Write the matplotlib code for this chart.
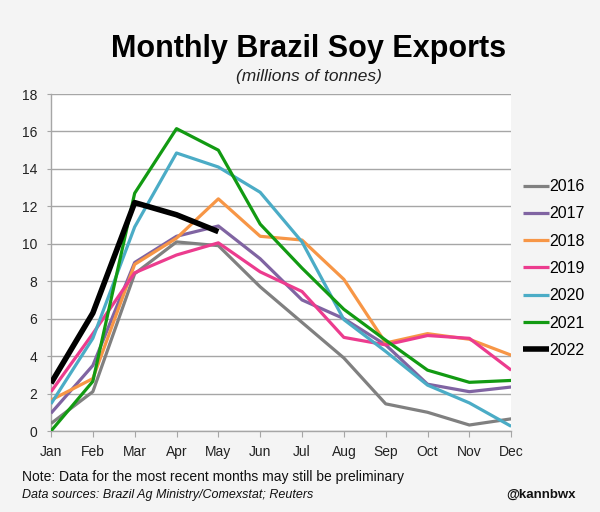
import matplotlib
matplotlib.use("Agg")
import matplotlib.pyplot as plt

months = ["Jan", "Feb", "Mar", "Apr", "May", "Jun", "Jul", "Aug", "Sep", "Oct", "Nov", "Dec"]
years = ["2016", "2017", "2018", "2019", "2020", "2021", "2022"]

s2016 = [0.4, 2.1, 8.4, 10.1, 9.9, 7.7, 5.8, 3.9, 1.45, 1.0, 0.32, 0.65]
s2017 = [0.95, 3.5, 9.0, 10.4, 10.95, 9.2, 7.0, 6.0, 4.6, 2.5, 2.1, 2.35]
s2018 = [1.65, 2.8, 8.9, 10.3, 12.4, 10.4, 10.2, 8.1, 4.7, 5.2, 4.9, 4.05]
s2019 = [2.1, 5.2, 8.45, 9.4, 10.05, 8.5, 7.45, 5.0, 4.6, 5.1, 4.95, 3.25]
s2020 = [1.45, 4.95, 10.9, 14.85, 14.1, 12.75, 10.1, 5.95, 4.25, 2.45, 1.5, 0.25]
s2021 = [0.0, 2.65, 12.7, 16.15, 15.0, 11.05, 8.7, 6.5, 4.85, 3.25, 2.6, 2.7]
s2022 = [2.55, 6.3, 12.2, 11.55, 10.65]

series = [s2016, s2017, s2018, s2019, s2020, s2021, s2022]
colors = ["#808080", "#8064A2", "#F79646", "#EC3C8E", "#4BACC6", "#129A12", "#000000"]
widths = [2.3, 2.3, 2.3, 2.3, 2.3, 2.3, 4.0]

plt.rcParams["font.family"] = ["Liberation Sans", "DejaVu Sans"]
bg = "#f4f4f4"
fig = plt.figure(figsize=(6.0, 5.12), dpi=100, facecolor=bg)
ax = fig.add_axes([0.085, 0.1582, 0.767, 0.6582])
ax.set_facecolor("white")

x = list(range(len(months)))
for yr, vals, c, lw in zip(years, series, colors, widths):
    ax.plot(x[:len(vals)], vals, color=c, lw=lw, label=yr, solid_capstyle="butt", zorder=3)

ax.set_xlim(0, 11)
ax.set_ylim(0, 18)
ax.set_yticks(range(0, 19, 2))
ax.set_xticks(x)
ax.set_xticklabels(months)
ax.grid(axis="y", color="#a6a6a6", lw=1.0, zorder=0)
ax.set_axisbelow(True)
for s in ["top", "right"]:
    ax.spines[s].set_visible(False)
for s in ["left", "bottom"]:
    ax.spines[s].set_color("#a6a6a6")
    ax.spines[s].set_linewidth(1.0)
ax.tick_params(axis="y", length=3, color="#a6a6a6", labelsize=10, pad=7, labelcolor="#222222")
ax.tick_params(axis="x", length=4, color="#a6a6a6", labelsize=10, pad=6, labelcolor="#222222")

leg = fig.legend(loc="center left", bbox_to_anchor=(0.872, 0.4756), frameon=False,
                 fontsize=11.5, handlelength=1.6, handletextpad=0.05, labelspacing=0.77,
                 borderaxespad=0, borderpad=0)

fig.text(0.515, 0.905, "Monthly Brazil Soy Exports", ha="center", va="center",
         fontsize=22, fontweight="bold", color="black")
fig.text(0.515, 0.851, "(millions of tonnes)", ha="center", va="center",
         fontsize=12.5, style="italic", color="#222222")
fig.text(0.037, 0.068, "Note: Data for the most recent months may still be preliminary",
         ha="left", va="center", fontsize=10, color="#111111")
fig.text(0.037, 0.033, "Data sources: Brazil Ag Ministry/Comexstat; Reuters",
         ha="left", va="center", fontsize=9, style="italic", color="#111111")
fig.text(0.96, 0.033, "@kannbwx", ha="right", va="center", fontsize=9.5,
         fontweight="bold", color="#111111")

fig.savefig("out.png", dpi=100, facecolor=bg)
